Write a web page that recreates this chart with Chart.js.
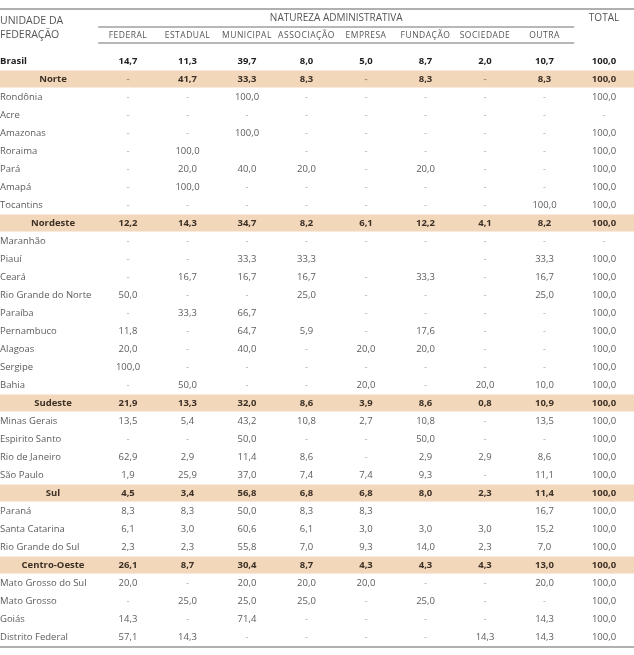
<!DOCTYPE html>
<html>
<head>
<meta charset="utf-8">
<script src="https://cdn.jsdelivr.net/npm/chart.js@4"></script>
<style>
  body { margin: 0; background: #fff; }
  #wrap { width: 634px; height: 655px; position: relative; }
</style>
</head>
<body>
<div id="wrap"><canvas id="tableChart"></canvas></div>
<script>
// row labels (Brasil, regions and states)
const rows = [
    'Brasil',
    'Norte', 'Rondônia', 'Acre', 'Amazonas', 'Roraima', 'Pará', 'Amapá', 'Tocantins',
    'Nordeste', 'Maranhão', 'Piauí', 'Ceará', 'Rio Grande do Norte', 'Paraíba', 'Pernambuco', 'Alagoas', 'Sergipe', 'Bahia',
    'Sudeste', 'Minas Gerais', 'Espirito Santo', 'Rio de Janeiro', 'São Paulo',
    'Sul', 'Paraná', 'Santa Catarina', 'Rio Grande do Sul',
    'Centro-Oeste', 'Mato Grosso do Sul', 'Mato Grosso', 'Goiás', 'Distrito Federal'
];
const regions = ['Norte', 'Nordeste', 'Sudeste', 'Sul', 'Centro-Oeste'];
const columns = ['FEDERAL', 'ESTADUAL', 'MUNICIPAL', 'ASSOCIAÇÃO', 'EMPRESA', 'FUNDAÇÃO', 'SOCIEDADE', 'OUTRA', 'TOTAL'];

// 0 = "-", null = empty cell
const federal    = [14.7, 0, 0, 0, 0, 0, 0, 0, 0, 12.2, 0, 0, 0, 50.0, 0, 11.8, 20.0, 100.0, 0, 21.9, 13.5, 0, 62.9, 1.9, 4.5, 8.3, 6.1, 2.3, 26.1, 20.0, 0, 14.3, 57.1];
const estadual   = [11.3, 41.7, 0, 0, 0, 100.0, 20.0, 100.0, 0, 14.3, 0, 0, 16.7, 0, 33.3, 0, 0, 0, 50.0, 13.3, 5.4, 0, 2.9, 25.9, 3.4, 8.3, 3.0, 2.3, 8.7, 0, 25.0, 0, 14.3];
const municipal  = [39.7, 33.3, 100.0, 0, 100.0, null, 40.0, 0, 0, 34.7, 0, 33.3, 16.7, 0, 66.7, 64.7, 40.0, 0, 0, 32.0, 43.2, 50.0, 11.4, 37.0, 56.8, 50.0, 60.6, 55.8, 30.4, 20.0, 25.0, 71.4, 0];
const associacao = [8.0, 8.3, 0, 0, 0, 0, 20.0, 0, 0, 8.2, 0, 33.3, 16.7, 25.0, null, 5.9, 0, 0, 0, 8.6, 10.8, 0, 8.6, 7.4, 6.8, 8.3, 6.1, 7.0, 8.7, 20.0, 25.0, 0, 0];
const empresa    = [5.0, 0, 0, 0, 0, 0, 0, 0, 0, 6.1, 0, null, 0, 0, 0, 0, 20.0, 0, 20.0, 3.9, 2.7, 0, 0, 7.4, 6.8, 8.3, 3.0, 9.3, 4.3, 20.0, 0, 0, 0];
const fundacao   = [8.7, 8.3, 0, 0, 0, 0, 20.0, 0, 0, 12.2, 0, null, 33.3, 0, 0, 17.6, 20.0, 0, 0, 8.6, 10.8, 50.0, 2.9, 9.3, 8.0, null, 3.0, 14.0, 4.3, 0, 25.0, 0, 0];
const sociedade  = [2.0, 0, 0, 0, 0, 0, 0, 0, 0, 4.1, 0, 0, 0, 0, 0, 0, 0, 0, 20.0, 0.8, 0, 0, 2.9, 0, 2.3, null, 3.0, 2.3, 4.3, 0, 0, 0, 14.3];
const outra      = [10.7, 8.3, 0, 0, 0, 0, 0, 0, 100.0, 8.2, 0, 33.3, 16.7, 25.0, 0, 0, 0, 0, 10.0, 10.9, 13.5, 0, 8.6, 11.1, 11.4, 16.7, 15.2, 7.0, 13.0, 20.0, 0, 14.3, 14.3];
const total      = [100.0, 100.0, 100.0, 0, 100.0, 100.0, 100.0, 100.0, 100.0, 100.0, 0, 100.0, 100.0, 100.0, 100.0, 100.0, 100.0, 100.0, 100.0, 100.0, 100.0, 100.0, 100.0, 100.0, 100.0, 100.0, 100.0, 100.0, 100.0, 100.0, 100.0, 100.0, 100.0];

const series = [federal, estadual, municipal, associacao, empresa, fundacao, sociedade, outra, total];

const FONT = '"Open Sans", sans-serif';

function fmt(v) {
    if (v === null) return '';
    if (v === 0) return '-';
    return v.toFixed(1).replace('.', ',');
}

// draws the header, row labels and cell texts
const tablePlugin = {
    id: 'tablePlugin',
    beforeDatasetsDraw(chart) {
        const ctx = chart.ctx;
        const x = chart.scales.x;
        ctx.save();
        ctx.textBaseline = 'middle';

        // header
        ctx.strokeStyle = '#b0b0b0';
        ctx.lineWidth = 2;
        ctx.beginPath();
        ctx.moveTo(0, 9);
        ctx.lineTo(chart.width, 9);
        ctx.stroke();

        ctx.fillStyle = '#555';
        ctx.textAlign = 'left';
        ctx.font = '10.5px ' + FONT;
        ctx.fillText('UNIDADE DA', 0, 21);
        ctx.fillText('FEDERAÇÃO', 0, 35);

        const left = x.getPixelForValue(-0.5);
        const right = x.getPixelForValue(7.5);
        ctx.textAlign = 'center';
        ctx.font = '10px ' + FONT;
        ctx.fillText('NATUREZA ADMINISTRATIVA', (x.getPixelForValue(0) + x.getPixelForValue(7)) / 2, 18);
        ctx.fillText('TOTAL', x.getPixelForValue(8), 18);

        ctx.strokeStyle = '#a0a0a0';
        ctx.lineWidth = 1.5;
        ctx.beginPath();
        ctx.moveTo(left, 27);
        ctx.lineTo(right, 27);
        ctx.moveTo(left, 43);
        ctx.lineTo(right, 43);
        ctx.stroke();

        ctx.font = '8.5px ' + FONT;
        ctx.letterSpacing = '0.5px';
        columns.slice(0, 8).forEach((c, i) => {
            ctx.fillText(c, x.getPixelForValue(i), 35.5);
        });
        ctx.letterSpacing = '0px';

        // bottom rule
        ctx.strokeStyle = '#b0b0b0';
        ctx.lineWidth = 2;
        ctx.beginPath();
        ctx.moveTo(0, chart.chartArea.bottom + 1);
        ctx.lineTo(chart.width, chart.chartArea.bottom + 1);
        ctx.stroke();
        ctx.restore();
    },
    afterDatasetsDraw(chart) {
        const ctx = chart.ctx;
        const y = chart.scales.y;
        ctx.save();
        ctx.textBaseline = 'middle';

        // row labels
        rows.forEach((name, j) => {
            const py = y.getPixelForValue(j);
            if (regions.includes(name)) {
                ctx.font = 'bold 9.5px ' + FONT;
                ctx.fillStyle = '#3d3126';
                ctx.textAlign = 'center';
                ctx.fillText(name, 53, py);
            } else if (name === 'Brasil') {
                ctx.font = 'bold 9.5px ' + FONT;
                ctx.fillStyle = '#222';
                ctx.textAlign = 'left';
                ctx.fillText(name, 0, py);
            } else {
                ctx.font = '9.5px ' + FONT;
                ctx.fillStyle = '#5c5c5c';
                ctx.textAlign = 'left';
                ctx.fillText(name, 0, py);
            }
        });

        // cells
        ctx.textAlign = 'center';
        chart.data.datasets.forEach((ds, i) => {
            if (ds.type !== 'scatter') return;
            const meta = chart.getDatasetMeta(i);
            meta.data.forEach((pt, j) => {
                const v = ds.data[j].v;
                const name = rows[j];
                if (name === 'Brasil') {
                    ctx.font = 'bold 9.5px ' + FONT;
                    ctx.fillStyle = '#222';
                } else if (regions.includes(name)) {
                    ctx.font = 'bold 9.5px ' + FONT;
                    ctx.fillStyle = v === 0 ? '#a08e7c' : '#3d3126';
                } else {
                    ctx.font = '9.5px ' + FONT;
                    ctx.fillStyle = v === 0 ? '#aaa' : '#5c5c5c';
                }
                ctx.fillText(fmt(v), pt.x, pt.y);
            });
        });
        ctx.restore();
    }
};

const datasets = [{
    type: 'bar',
    label: 'regiões',
    xAxisID: 'xb',
    yAxisID: 'y',
    data: rows.map(r => regions.includes(r) ? [0, 1] : null),
    backgroundColor: '#f2d7bb',
    categoryPercentage: 1,
    barPercentage: 0.94
}];

series.forEach((values, c) => {
    datasets.push({
        type: 'scatter',
        label: columns[c],
        xAxisID: 'x',
        yAxisID: 'y',
        data: values.map((v, j) => ({ x: c, y: rows[j], v: v })),
        pointRadius: 0,
        showLine: false
    });
});

new Chart(document.getElementById('tableChart').getContext('2d'), {
    type: 'bar',
    data: { labels: rows, datasets: datasets },
    options: {
        indexAxis: 'y',
        responsive: true,
        maintainAspectRatio: false,
        animation: false,
        layout: { padding: { top: 52, bottom: 9, left: 0, right: 0 } },
        plugins: { legend: { display: false }, tooltip: { enabled: false } },
        scales: {
            y: { type: 'category', labels: rows, offset: true, display: false },
            x: { type: 'linear', min: -2.151, max: 8.504, display: false },
            xb: { type: 'linear', min: 0, max: 1, display: false }
        }
    },
    plugins: [tablePlugin]
});
</script>
</body>
</html>
